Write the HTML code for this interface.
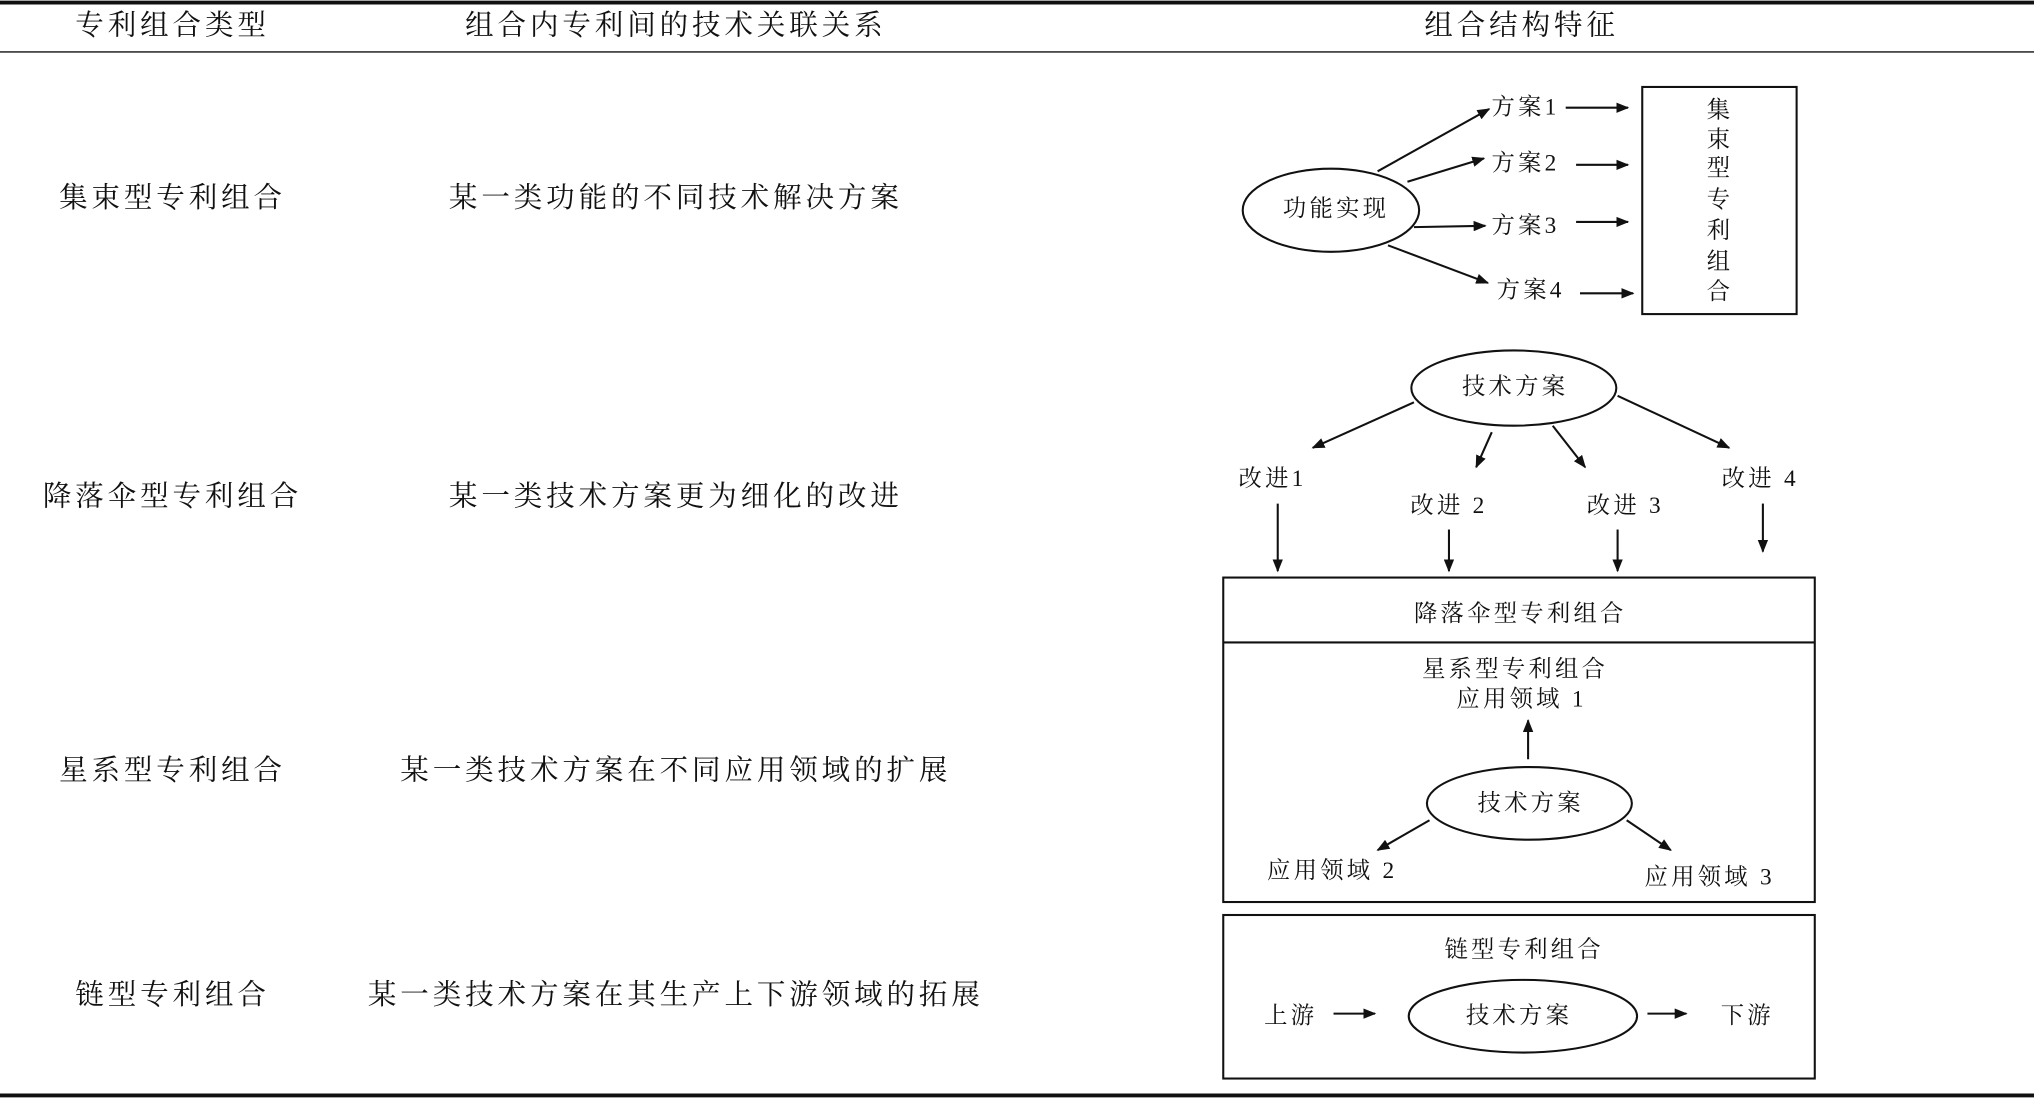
<!DOCTYPE html>
<html><head><meta charset="utf-8"><style>
html,body{margin:0;padding:0;background:#fff;}
svg{display:block;}
.h{font-family:"Liberation Serif","Noto Serif CJK SC",serif;font-size:22px;letter-spacing:3px;fill:#111;text-anchor:middle;dominant-baseline:central;}
.d{font-family:"Liberation Serif","Noto Serif CJK SC",serif;font-size:18px;letter-spacing:2.5px;fill:#111;text-anchor:middle;dominant-baseline:central;}
</style></head><body>
<svg width="2034" height="1098" viewBox="0 0 1568 846" preserveAspectRatio="none" xmlns="http://www.w3.org/2000/svg">
<defs><marker id="a" markerWidth="10" markerHeight="8" refX="9" refY="4" orient="auto" markerUnits="userSpaceOnUse"><path d="M0,0 L10,4 L0,8 z" fill="#111"/></marker></defs>
<g stroke="#111" fill="none">
<line x1="0" y1="2" x2="1568" y2="2" stroke-width="3"/>
<line x1="0" y1="40" x2="1568" y2="40" stroke-width="1"/>
<line x1="0" y1="844" x2="1568" y2="844" stroke-width="3"/>
</g>
<text class="h" x="133" y="20">专利组合类型</text>
<text class="h" x="521" y="20">组合内专利间的技术关联关系</text>
<text class="h" x="1173" y="20">组合结构特征</text>
<text class="h" x="133" y="153">集束型专利组合</text>
<text class="h" x="133" y="383">降落伞型专利组合</text>
<text class="h" x="133" y="594">星系型专利组合</text>
<text class="h" x="133" y="767">链型专利组合</text>
<text class="h" x="521" y="153">某一类功能的不同技术解决方案</text>
<text class="h" x="521" y="383">某一类技术方案更为细化的改进</text>
<text class="h" x="521" y="594">某一类技术方案在不同应用领域的扩展</text>
<text class="h" x="521" y="767">某一类技术方案在其生产上下游领域的拓展</text>
<g stroke="#111" fill="none" stroke-width="1.6">
<ellipse cx="1026" cy="162" rx="68" ry="32"/>
<line x1="1062" y1="132" x2="1148" y2="84" marker-end="url(#a)"/>
<line x1="1085" y1="140" x2="1144" y2="122" marker-end="url(#a)"/>
<line x1="1090" y1="175" x2="1145" y2="174" marker-end="url(#a)"/>
<line x1="1070" y1="189" x2="1147" y2="218" marker-end="url(#a)"/>
<line x1="1207" y1="83" x2="1255" y2="83" marker-end="url(#a)"/>
<line x1="1215" y1="127" x2="1255" y2="127" marker-end="url(#a)"/>
<line x1="1215" y1="171" x2="1255" y2="171" marker-end="url(#a)"/>
<line x1="1218" y1="226" x2="1259" y2="226" marker-end="url(#a)"/>
<rect x="1266" y="67" width="119" height="175"/>
<ellipse cx="1167" cy="299" rx="79" ry="29"/>
<line x1="1090" y1="310" x2="1012" y2="345" marker-end="url(#a)"/>
<line x1="1150" y1="333" x2="1138" y2="360" marker-end="url(#a)"/>
<line x1="1197" y1="328" x2="1222" y2="360" marker-end="url(#a)"/>
<line x1="1247" y1="305" x2="1333" y2="345" marker-end="url(#a)"/>
<line x1="985" y1="388" x2="985" y2="440" marker-end="url(#a)"/>
<line x1="1117" y1="408" x2="1117" y2="440" marker-end="url(#a)"/>
<line x1="1247" y1="408" x2="1247" y2="440" marker-end="url(#a)"/>
<line x1="1359" y1="388" x2="1359" y2="425" marker-end="url(#a)"/>
<rect x="943" y="445" width="456" height="250"/>
<line x1="943" y1="495" x2="1399" y2="495"/>
<line x1="1178" y1="585" x2="1178" y2="555" marker-end="url(#a)"/>
<ellipse cx="1179" cy="619" rx="79" ry="28"/>
<line x1="1102" y1="632" x2="1062" y2="655" marker-end="url(#a)"/>
<line x1="1254" y1="632" x2="1288" y2="655" marker-end="url(#a)"/>
<rect x="943" y="705" width="456" height="126"/>
<line x1="1028" y1="781" x2="1060" y2="781" marker-end="url(#a)"/>
<ellipse cx="1174" cy="783" rx="88" ry="28"/>
<line x1="1270" y1="781" x2="1300" y2="781" marker-end="url(#a)"/>
</g>
<text class="d" x="1030" y="161">功能实现</text>
<text class="d" x="1176" y="83">方案1</text>
<text class="d" x="1176" y="126">方案2</text>
<text class="d" x="1176" y="174">方案3</text>
<text class="d" x="1180" y="224">方案4</text>
<text class="d" x="1326" y="85">集</text><text class="d" x="1326" y="108">束</text><text class="d" x="1326" y="130">型</text><text class="d" x="1326" y="154">专</text><text class="d" x="1326" y="178">利</text><text class="d" x="1326" y="202">组</text><text class="d" x="1326" y="225">合</text>
<text class="d" x="1168" y="298">技术方案</text>
<text class="d" x="981" y="369">改进1</text>
<text class="d" x="1117" y="390">改进 2</text>
<text class="d" x="1253" y="390">改进 3</text>
<text class="d" x="1357" y="369">改进 4</text>
<text class="d" x="1172" y="473">降落伞型专利组合</text>
<text class="d" x="1168" y="516">星系型专利组合</text>
<text class="d" x="1173" y="539">应用领域 1</text>
<text class="d" x="1180" y="619">技术方案</text>
<text class="d" x="1027" y="671">应用领域 2</text>
<text class="d" x="1318" y="676">应用领域 3</text>
<text class="d" x="1175" y="732">链型专利组合</text>
<text class="d" x="995" y="783">上游</text>
<text class="d" x="1171" y="783">技术方案</text>
<text class="d" x="1347" y="783">下游</text>
</svg>
</body></html>
